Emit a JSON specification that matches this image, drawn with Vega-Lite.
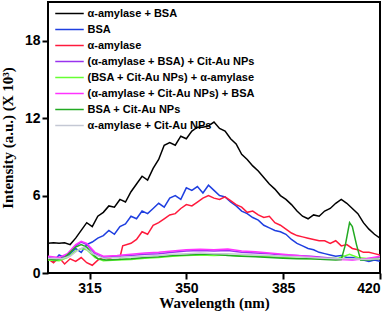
{
  "$schema": "https://vega.github.io/schema/vega-lite/v6.json",
  "width": 332,
  "height": 271,
  "autosize": "none",
  "padding": {"left": 48, "top": 2, "right": 12, "bottom": 43},
  "background": "white",
  "config": {
    "view": {"stroke": "black", "strokeWidth": 2},
    "axis": {"grid": false, "domain": false, "tickColor": "black", "tickWidth": 2, "tickSize": 6,
      "labelFont": "Liberation Sans", "labelFontWeight": "bold", "labelFontSize": 14, "labelColor": "black",
      "titleFont": "Liberation Serif", "titleFontWeight": "bold", "titleFontSize": 15, "titleColor": "black"}
  },
  "data": {"values": [
    {"s":"α-amylase + BSA","x":300,"y":2.3},{"s":"α-amylase + BSA","x":302,"y":2.35},{"s":"α-amylase + BSA","x":304,"y":2.3},{"s":"α-amylase + BSA","x":306,"y":2.35},{"s":"α-amylase + BSA","x":308,"y":2.2},{"s":"α-amylase + BSA","x":310,"y":2.7},{"s":"α-amylase + BSA","x":312,"y":3.3},{"s":"α-amylase + BSA","x":314,"y":3.9},{"s":"α-amylase + BSA","x":316,"y":3.6},{"s":"α-amylase + BSA","x":318,"y":4.4},{"s":"α-amylase + BSA","x":320,"y":4.7},{"s":"α-amylase + BSA","x":322,"y":5.2},{"s":"α-amylase + BSA","x":324,"y":5.1},{"s":"α-amylase + BSA","x":326,"y":5.7},{"s":"α-amylase + BSA","x":328,"y":5.5},{"s":"α-amylase + BSA","x":330,"y":6.3},{"s":"α-amylase + BSA","x":332,"y":6.9},{"s":"α-amylase + BSA","x":334,"y":7.5},{"s":"α-amylase + BSA","x":336,"y":7.2},{"s":"α-amylase + BSA","x":338,"y":8.1},{"s":"α-amylase + BSA","x":340,"y":8.8},{"s":"α-amylase + BSA","x":342,"y":9.9},{"s":"α-amylase + BSA","x":344,"y":10.1},{"s":"α-amylase + BSA","x":346,"y":9.9},{"s":"α-amylase + BSA","x":348,"y":10.6},{"s":"α-amylase + BSA","x":350,"y":10.4},{"s":"α-amylase + BSA","x":352,"y":11.0},{"s":"α-amylase + BSA","x":354,"y":11.3},{"s":"α-amylase + BSA","x":356,"y":11.3},{"s":"α-amylase + BSA","x":358,"y":11.4},{"s":"α-amylase + BSA","x":360,"y":11.7},{"s":"α-amylase + BSA","x":362,"y":11.2},{"s":"α-amylase + BSA","x":364,"y":11.0},{"s":"α-amylase + BSA","x":366,"y":10.4},{"s":"α-amylase + BSA","x":368,"y":10.0},{"s":"α-amylase + BSA","x":370,"y":9.2},{"s":"α-amylase + BSA","x":372,"y":8.8},{"s":"α-amylase + BSA","x":374,"y":8.3},{"s":"α-amylase + BSA","x":376,"y":7.9},{"s":"α-amylase + BSA","x":378,"y":7.4},{"s":"α-amylase + BSA","x":380,"y":6.9},{"s":"α-amylase + BSA","x":382,"y":6.5},{"s":"α-amylase + BSA","x":384,"y":6.0},{"s":"α-amylase + BSA","x":386,"y":5.7},{"s":"α-amylase + BSA","x":388,"y":5.3},{"s":"α-amylase + BSA","x":390,"y":4.8},{"s":"α-amylase + BSA","x":392,"y":4.4},{"s":"α-amylase + BSA","x":394,"y":4.2},{"s":"α-amylase + BSA","x":396,"y":4.5},{"s":"α-amylase + BSA","x":398,"y":4.4},{"s":"α-amylase + BSA","x":400,"y":4.8},{"s":"α-amylase + BSA","x":402,"y":5.0},{"s":"α-amylase + BSA","x":404,"y":5.4},{"s":"α-amylase + BSA","x":406,"y":5.7},{"s":"α-amylase + BSA","x":408,"y":5.4},{"s":"α-amylase + BSA","x":410,"y":5.0},{"s":"α-amylase + BSA","x":412,"y":4.6},{"s":"α-amylase + BSA","x":414,"y":3.9},{"s":"α-amylase + BSA","x":416,"y":3.4},{"s":"α-amylase + BSA","x":418,"y":3.0},{"s":"α-amylase + BSA","x":420,"y":2.7},

    {"s":"BSA","x":300,"y":1.3},{"s":"BSA","x":302,"y":0.9},{"s":"BSA","x":304,"y":1.4},{"s":"BSA","x":306,"y":1.2},{"s":"BSA","x":308,"y":1.5},{"s":"BSA","x":310,"y":1.9},{"s":"BSA","x":312,"y":1.6},{"s":"BSA","x":314,"y":2.2},{"s":"BSA","x":316,"y":2.4},{"s":"BSA","x":318,"y":2.7},{"s":"BSA","x":320,"y":2.9},{"s":"BSA","x":322,"y":3.3},{"s":"BSA","x":324,"y":3.0},{"s":"BSA","x":326,"y":3.6},{"s":"BSA","x":328,"y":3.8},{"s":"BSA","x":330,"y":4.4},{"s":"BSA","x":332,"y":4.2},{"s":"BSA","x":334,"y":4.8},{"s":"BSA","x":336,"y":4.6},{"s":"BSA","x":338,"y":5.0},{"s":"BSA","x":340,"y":5.4},{"s":"BSA","x":342,"y":5.1},{"s":"BSA","x":344,"y":5.8},{"s":"BSA","x":346,"y":6.0},{"s":"BSA","x":348,"y":5.7},{"s":"BSA","x":350,"y":6.6},{"s":"BSA","x":352,"y":6.4},{"s":"BSA","x":354,"y":6.7},{"s":"BSA","x":356,"y":6.2},{"s":"BSA","x":358,"y":6.8},{"s":"BSA","x":360,"y":6.4},{"s":"BSA","x":362,"y":6.0},{"s":"BSA","x":364,"y":5.9},{"s":"BSA","x":366,"y":5.5},{"s":"BSA","x":368,"y":5.2},{"s":"BSA","x":370,"y":4.8},{"s":"BSA","x":372,"y":4.6},{"s":"BSA","x":374,"y":4.3},{"s":"BSA","x":376,"y":4.1},{"s":"BSA","x":378,"y":3.7},{"s":"BSA","x":380,"y":3.5},{"s":"BSA","x":382,"y":3.3},{"s":"BSA","x":384,"y":3.2},{"s":"BSA","x":386,"y":3.0},{"s":"BSA","x":388,"y":2.6},{"s":"BSA","x":390,"y":2.3},{"s":"BSA","x":392,"y":2.1},{"s":"BSA","x":394,"y":1.9},{"s":"BSA","x":396,"y":1.8},{"s":"BSA","x":398,"y":1.6},{"s":"BSA","x":400,"y":1.5},{"s":"BSA","x":402,"y":1.4},{"s":"BSA","x":404,"y":1.3},{"s":"BSA","x":406,"y":1.35},{"s":"BSA","x":408,"y":1.2},{"s":"BSA","x":410,"y":1.2},{"s":"BSA","x":412,"y":1.1},{"s":"BSA","x":414,"y":1.0},{"s":"BSA","x":416,"y":0.9},{"s":"BSA","x":418,"y":1.0},{"s":"BSA","x":420,"y":0.9},

    {"s":"α-amylase","x":300,"y":1.1},{"s":"α-amylase","x":302,"y":0.8},{"s":"α-amylase","x":304,"y":1.2},{"s":"α-amylase","x":306,"y":0.7},{"s":"α-amylase","x":308,"y":1.1},{"s":"α-amylase","x":310,"y":0.9},{"s":"α-amylase","x":312,"y":1.2},{"s":"α-amylase","x":314,"y":0.8},{"s":"α-amylase","x":316,"y":0.6},{"s":"α-amylase","x":318,"y":1.0},{"s":"α-amylase","x":320,"y":1.2},{"s":"α-amylase","x":322,"y":1.1},{"s":"α-amylase","x":324,"y":1.3},{"s":"α-amylase","x":326,"y":1.2},{"s":"α-amylase","x":327,"y":2.1},{"s":"α-amylase","x":330,"y":2.3},{"s":"α-amylase","x":332,"y":2.6},{"s":"α-amylase","x":334,"y":3.2},{"s":"α-amylase","x":336,"y":3.0},{"s":"α-amylase","x":338,"y":3.7},{"s":"α-amylase","x":340,"y":3.9},{"s":"α-amylase","x":342,"y":4.2},{"s":"α-amylase","x":344,"y":4.5},{"s":"α-amylase","x":346,"y":4.6},{"s":"α-amylase","x":348,"y":5.0},{"s":"α-amylase","x":350,"y":5.3},{"s":"α-amylase","x":352,"y":5.2},{"s":"α-amylase","x":354,"y":5.5},{"s":"α-amylase","x":356,"y":5.8},{"s":"α-amylase","x":358,"y":6.0},{"s":"α-amylase","x":360,"y":5.8},{"s":"α-amylase","x":362,"y":5.7},{"s":"α-amylase","x":364,"y":5.9},{"s":"α-amylase","x":366,"y":5.6},{"s":"α-amylase","x":368,"y":5.3},{"s":"α-amylase","x":370,"y":5.1},{"s":"α-amylase","x":372,"y":4.7},{"s":"α-amylase","x":374,"y":4.8},{"s":"α-amylase","x":376,"y":4.5},{"s":"α-amylase","x":378,"y":4.3},{"s":"α-amylase","x":380,"y":4.4},{"s":"α-amylase","x":382,"y":3.9},{"s":"α-amylase","x":384,"y":3.7},{"s":"α-amylase","x":386,"y":3.4},{"s":"α-amylase","x":388,"y":3.1},{"s":"α-amylase","x":390,"y":2.9},{"s":"α-amylase","x":392,"y":2.8},{"s":"α-amylase","x":394,"y":2.7},{"s":"α-amylase","x":396,"y":2.6},{"s":"α-amylase","x":398,"y":2.5},{"s":"α-amylase","x":400,"y":2.5},{"s":"α-amylase","x":402,"y":2.3},{"s":"α-amylase","x":404,"y":2.5},{"s":"α-amylase","x":406,"y":2.1},{"s":"α-amylase","x":408,"y":2.2},{"s":"α-amylase","x":410,"y":1.9},{"s":"α-amylase","x":412,"y":1.8},{"s":"α-amylase","x":414,"y":1.6},{"s":"α-amylase","x":416,"y":1.6},{"s":"α-amylase","x":418,"y":1.5},{"s":"α-amylase","x":420,"y":1.4},

    {"s":"(α-amylase + BSA) + Cit-Au NPs","x":300,"y":1.2},{"s":"(α-amylase + BSA) + Cit-Au NPs","x":304,"y":1.1},{"s":"(α-amylase + BSA) + Cit-Au NPs","x":307,"y":1.4},{"s":"(α-amylase + BSA) + Cit-Au NPs","x":310,"y":2.1},{"s":"(α-amylase + BSA) + Cit-Au NPs","x":312,"y":2.4},{"s":"(α-amylase + BSA) + Cit-Au NPs","x":314,"y":2.2},{"s":"(α-amylase + BSA) + Cit-Au NPs","x":317,"y":1.5},{"s":"(α-amylase + BSA) + Cit-Au NPs","x":320,"y":1.2},{"s":"(α-amylase + BSA) + Cit-Au NPs","x":325,"y":1.3},{"s":"(α-amylase + BSA) + Cit-Au NPs","x":330,"y":1.35},{"s":"(α-amylase + BSA) + Cit-Au NPs","x":335,"y":1.45},{"s":"(α-amylase + BSA) + Cit-Au NPs","x":340,"y":1.5},{"s":"(α-amylase + BSA) + Cit-Au NPs","x":345,"y":1.6},{"s":"(α-amylase + BSA) + Cit-Au NPs","x":350,"y":1.7},{"s":"(α-amylase + BSA) + Cit-Au NPs","x":355,"y":1.75},{"s":"(α-amylase + BSA) + Cit-Au NPs","x":360,"y":1.7},{"s":"(α-amylase + BSA) + Cit-Au NPs","x":365,"y":1.75},{"s":"(α-amylase + BSA) + Cit-Au NPs","x":370,"y":1.6},{"s":"(α-amylase + BSA) + Cit-Au NPs","x":375,"y":1.55},{"s":"(α-amylase + BSA) + Cit-Au NPs","x":380,"y":1.5},{"s":"(α-amylase + BSA) + Cit-Au NPs","x":385,"y":1.4},{"s":"(α-amylase + BSA) + Cit-Au NPs","x":390,"y":1.35},{"s":"(α-amylase + BSA) + Cit-Au NPs","x":395,"y":1.3},{"s":"(α-amylase + BSA) + Cit-Au NPs","x":400,"y":1.2},{"s":"(α-amylase + BSA) + Cit-Au NPs","x":405,"y":1.1},{"s":"(α-amylase + BSA) + Cit-Au NPs","x":410,"y":1.05},{"s":"(α-amylase + BSA) + Cit-Au NPs","x":415,"y":1.1},{"s":"(α-amylase + BSA) + Cit-Au NPs","x":420,"y":1.2},

    {"s":"(BSA + Cit-Au NPs) + α-amylase","x":300,"y":1.0},{"s":"(BSA + Cit-Au NPs) + α-amylase","x":304,"y":0.95},{"s":"(BSA + Cit-Au NPs) + α-amylase","x":307,"y":1.2},{"s":"(BSA + Cit-Au NPs) + α-amylase","x":310,"y":1.7},{"s":"(BSA + Cit-Au NPs) + α-amylase","x":312,"y":1.9},{"s":"(BSA + Cit-Au NPs) + α-amylase","x":314,"y":1.8},{"s":"(BSA + Cit-Au NPs) + α-amylase","x":317,"y":1.2},{"s":"(BSA + Cit-Au NPs) + α-amylase","x":320,"y":0.95},{"s":"(BSA + Cit-Au NPs) + α-amylase","x":325,"y":1.0},{"s":"(BSA + Cit-Au NPs) + α-amylase","x":330,"y":1.05},{"s":"(BSA + Cit-Au NPs) + α-amylase","x":335,"y":1.15},{"s":"(BSA + Cit-Au NPs) + α-amylase","x":340,"y":1.2},{"s":"(BSA + Cit-Au NPs) + α-amylase","x":345,"y":1.3},{"s":"(BSA + Cit-Au NPs) + α-amylase","x":350,"y":1.35},{"s":"(BSA + Cit-Au NPs) + α-amylase","x":355,"y":1.4},{"s":"(BSA + Cit-Au NPs) + α-amylase","x":360,"y":1.35},{"s":"(BSA + Cit-Au NPs) + α-amylase","x":365,"y":1.4},{"s":"(BSA + Cit-Au NPs) + α-amylase","x":370,"y":1.3},{"s":"(BSA + Cit-Au NPs) + α-amylase","x":375,"y":1.3},{"s":"(BSA + Cit-Au NPs) + α-amylase","x":380,"y":1.25},{"s":"(BSA + Cit-Au NPs) + α-amylase","x":385,"y":1.2},{"s":"(BSA + Cit-Au NPs) + α-amylase","x":390,"y":1.15},{"s":"(BSA + Cit-Au NPs) + α-amylase","x":395,"y":1.1},{"s":"(BSA + Cit-Au NPs) + α-amylase","x":400,"y":1.1},{"s":"(BSA + Cit-Au NPs) + α-amylase","x":405,"y":1.15},{"s":"(BSA + Cit-Au NPs) + α-amylase","x":409,"y":1.45},{"s":"(BSA + Cit-Au NPs) + α-amylase","x":412,"y":1.2},{"s":"(BSA + Cit-Au NPs) + α-amylase","x":416,"y":1.1},{"s":"(BSA + Cit-Au NPs) + α-amylase","x":420,"y":1.15},

    {"s":"(α-amylase + Cit-Au NPs) + BSA","x":300,"y":1.3},{"s":"(α-amylase + Cit-Au NPs) + BSA","x":304,"y":1.2},{"s":"(α-amylase + Cit-Au NPs) + BSA","x":307,"y":1.5},{"s":"(α-amylase + Cit-Au NPs) + BSA","x":310,"y":2.2},{"s":"(α-amylase + Cit-Au NPs) + BSA","x":312,"y":2.45},{"s":"(α-amylase + Cit-Au NPs) + BSA","x":314,"y":2.3},{"s":"(α-amylase + Cit-Au NPs) + BSA","x":317,"y":1.6},{"s":"(α-amylase + Cit-Au NPs) + BSA","x":320,"y":1.3},{"s":"(α-amylase + Cit-Au NPs) + BSA","x":325,"y":1.35},{"s":"(α-amylase + Cit-Au NPs) + BSA","x":330,"y":1.45},{"s":"(α-amylase + Cit-Au NPs) + BSA","x":335,"y":1.55},{"s":"(α-amylase + Cit-Au NPs) + BSA","x":340,"y":1.6},{"s":"(α-amylase + Cit-Au NPs) + BSA","x":345,"y":1.7},{"s":"(α-amylase + Cit-Au NPs) + BSA","x":350,"y":1.8},{"s":"(α-amylase + Cit-Au NPs) + BSA","x":355,"y":1.85},{"s":"(α-amylase + Cit-Au NPs) + BSA","x":360,"y":1.8},{"s":"(α-amylase + Cit-Au NPs) + BSA","x":365,"y":1.85},{"s":"(α-amylase + Cit-Au NPs) + BSA","x":370,"y":1.7},{"s":"(α-amylase + Cit-Au NPs) + BSA","x":375,"y":1.65},{"s":"(α-amylase + Cit-Au NPs) + BSA","x":380,"y":1.55},{"s":"(α-amylase + Cit-Au NPs) + BSA","x":385,"y":1.45},{"s":"(α-amylase + Cit-Au NPs) + BSA","x":390,"y":1.35},{"s":"(α-amylase + Cit-Au NPs) + BSA","x":395,"y":1.25},{"s":"(α-amylase + Cit-Au NPs) + BSA","x":400,"y":1.15},{"s":"(α-amylase + Cit-Au NPs) + BSA","x":405,"y":1.05},{"s":"(α-amylase + Cit-Au NPs) + BSA","x":410,"y":1.0},{"s":"(α-amylase + Cit-Au NPs) + BSA","x":415,"y":1.1},{"s":"(α-amylase + Cit-Au NPs) + BSA","x":420,"y":1.3},

    {"s":"BSA + Cit-Au NPs","x":300,"y":1.1},{"s":"BSA + Cit-Au NPs","x":303,"y":1.0},{"s":"BSA + Cit-Au NPs","x":306,"y":1.2},{"s":"BSA + Cit-Au NPs","x":308,"y":1.6},{"s":"BSA + Cit-Au NPs","x":310,"y":2.0},{"s":"BSA + Cit-Au NPs","x":312,"y":2.2},{"s":"BSA + Cit-Au NPs","x":314,"y":2.0},{"s":"BSA + Cit-Au NPs","x":316,"y":1.5},{"s":"BSA + Cit-Au NPs","x":318,"y":1.1},{"s":"BSA + Cit-Au NPs","x":321,"y":1.0},{"s":"BSA + Cit-Au NPs","x":325,"y":1.05},{"s":"BSA + Cit-Au NPs","x":330,"y":1.1},{"s":"BSA + Cit-Au NPs","x":335,"y":1.2},{"s":"BSA + Cit-Au NPs","x":340,"y":1.25},{"s":"BSA + Cit-Au NPs","x":345,"y":1.35},{"s":"BSA + Cit-Au NPs","x":350,"y":1.4},{"s":"BSA + Cit-Au NPs","x":355,"y":1.45},{"s":"BSA + Cit-Au NPs","x":360,"y":1.45},{"s":"BSA + Cit-Au NPs","x":365,"y":1.35},{"s":"BSA + Cit-Au NPs","x":370,"y":1.3},{"s":"BSA + Cit-Au NPs","x":375,"y":1.25},{"s":"BSA + Cit-Au NPs","x":380,"y":1.2},{"s":"BSA + Cit-Au NPs","x":385,"y":1.15},{"s":"BSA + Cit-Au NPs","x":390,"y":1.1},{"s":"BSA + Cit-Au NPs","x":395,"y":1.1},{"s":"BSA + Cit-Au NPs","x":400,"y":1.05},{"s":"BSA + Cit-Au NPs","x":404,"y":1.0},{"s":"BSA + Cit-Au NPs","x":406,"y":1.05},{"s":"BSA + Cit-Au NPs","x":407.5,"y":2.2},{"s":"BSA + Cit-Au NPs","x":409,"y":3.9},{"s":"BSA + Cit-Au NPs","x":410,"y":3.6},{"s":"BSA + Cit-Au NPs","x":411.5,"y":2.2},{"s":"BSA + Cit-Au NPs","x":413,"y":1.0},{"s":"BSA + Cit-Au NPs","x":416,"y":1.0},{"s":"BSA + Cit-Au NPs","x":420,"y":1.1},

    {"s":"α-amylase + Cit-Au NPs","x":300,"y":1.15},{"s":"α-amylase + Cit-Au NPs","x":305,"y":1.1},{"s":"α-amylase + Cit-Au NPs","x":308,"y":1.3},{"s":"α-amylase + Cit-Au NPs","x":311,"y":1.8},{"s":"α-amylase + Cit-Au NPs","x":313,"y":2.0},{"s":"α-amylase + Cit-Au NPs","x":316,"y":1.5},{"s":"α-amylase + Cit-Au NPs","x":320,"y":1.15},{"s":"α-amylase + Cit-Au NPs","x":325,"y":1.2},{"s":"α-amylase + Cit-Au NPs","x":330,"y":1.25},{"s":"α-amylase + Cit-Au NPs","x":335,"y":1.3},{"s":"α-amylase + Cit-Au NPs","x":340,"y":1.35},{"s":"α-amylase + Cit-Au NPs","x":345,"y":1.45},{"s":"α-amylase + Cit-Au NPs","x":350,"y":1.5},{"s":"α-amylase + Cit-Au NPs","x":355,"y":1.55},{"s":"α-amylase + Cit-Au NPs","x":360,"y":1.5},{"s":"α-amylase + Cit-Au NPs","x":365,"y":1.5},{"s":"α-amylase + Cit-Au NPs","x":370,"y":1.45},{"s":"α-amylase + Cit-Au NPs","x":375,"y":1.4},{"s":"α-amylase + Cit-Au NPs","x":380,"y":1.35},{"s":"α-amylase + Cit-Au NPs","x":385,"y":1.3},{"s":"α-amylase + Cit-Au NPs","x":390,"y":1.25},{"s":"α-amylase + Cit-Au NPs","x":395,"y":1.2},{"s":"α-amylase + Cit-Au NPs","x":400,"y":1.15},{"s":"α-amylase + Cit-Au NPs","x":405,"y":1.1},{"s":"α-amylase + Cit-Au NPs","x":410,"y":1.1},{"s":"α-amylase + Cit-Au NPs","x":415,"y":1.05},{"s":"α-amylase + Cit-Au NPs","x":420,"y":1.1}
  ]},
  "mark": {"type": "line", "strokeWidth": 1.5, "clip": true},
  "encoding": {
    "x": {"field": "x", "type": "quantitative", "scale": {"domain": [300, 420], "nice": false, "zero": false},
      "axis": {"values": [315, 350, 385, 420], "title": "Wavelength (nm)", "labelPadding": 2, "titlePadding": 0}},
    "y": {"field": "y", "type": "quantitative", "scale": {"domain": [0, 21], "nice": false},
      "axis": {"values": [0, 6, 12, 18], "title": "Intensity (a.u.) (X 10³)", "labelPadding": 2, "titlePadding": 9}},
    "color": {"field": "s", "type": "nominal",
      "scale": {
        "domain": ["α-amylase + BSA", "BSA", "α-amylase", "(α-amylase + BSA) + Cit-Au NPs", "(BSA + Cit-Au NPs) + α-amylase", "(α-amylase + Cit-Au NPs) + BSA", "BSA + Cit-Au NPs", "α-amylase + Cit-Au NPs"],
        "range": ["#000000", "#1f3fe0", "#ff1a3c", "#9933ee", "#66ff33", "#ff33ff", "#22aa22", "#c4c8d4"]
      },
      "legend": {"orient": "none", "legendX": 11, "legendY": 1, "title": null, "symbolType": "M-1.5,0H1.5", "symbolSize": 361,
        "symbolStrokeWidth": 1.5, "labelFont": "Liberation Sans", "labelFontWeight": "bold", "labelFontSize": 11,
        "labelColor": "black", "labelOffset": 7.5, "rowPadding": 0, "labelLimit": 400}
    },
    "order": {"field": "x", "type": "quantitative"}
  }
}
